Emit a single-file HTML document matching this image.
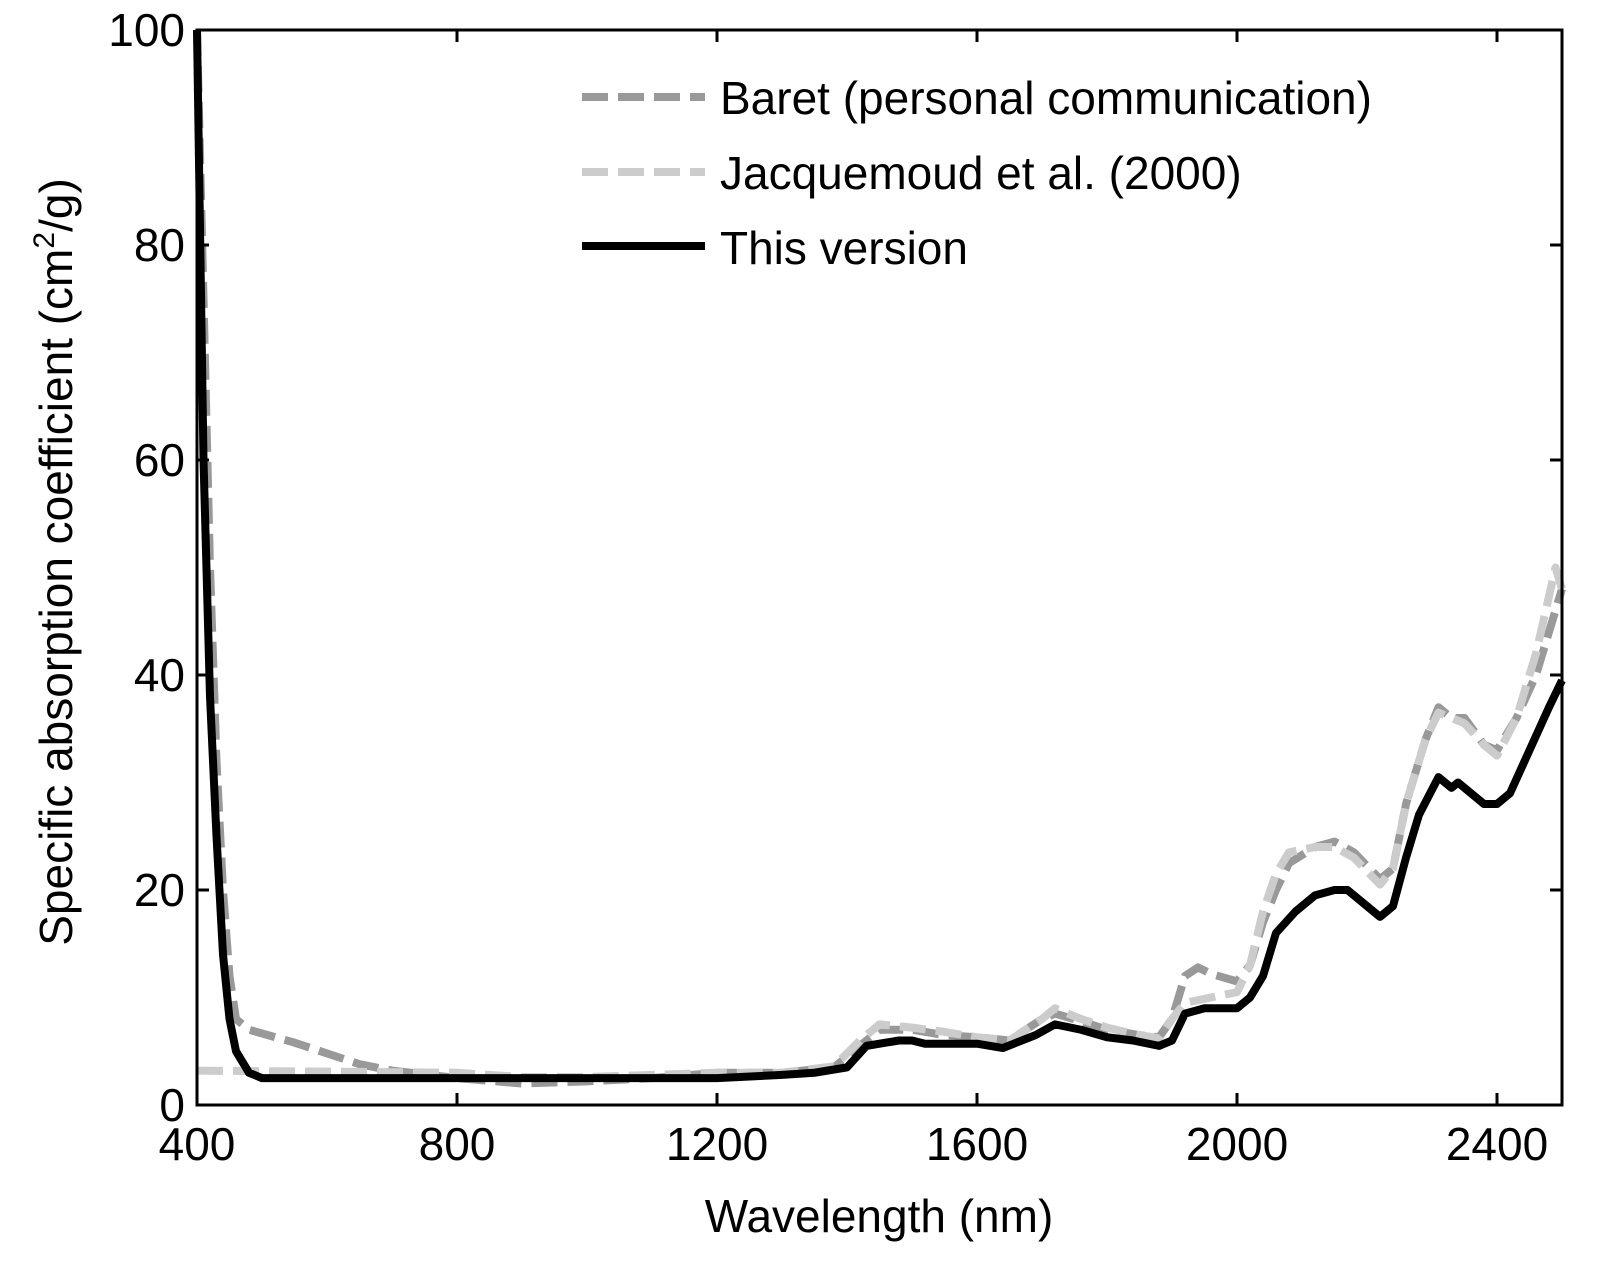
<!DOCTYPE html>
<html><head><meta charset="utf-8"><style>
body{margin:0;background:#fff}
svg text{font-family:"Liberation Sans",Arial,sans-serif;fill:#000}
</style></head><body>
<svg id="chart" width="1608" height="1276" viewBox="0 0 1608 1276" xmlns="http://www.w3.org/2000/svg">
<g id="series"></g>
<rect x="197" y="30" width="1365" height="1075" fill="none" stroke="#000" stroke-width="3"/>
<g id="axes"></g>
<text x="879" y="1232" font-size="46" text-anchor="middle">Wavelength (nm)</text>
<text transform="translate(72,562) rotate(-90)" font-size="46" text-anchor="middle">Specific absorption coefficient (cm<tspan font-size="30" dy="-18">2</tspan><tspan dy="18">/g)</tspan></text>
<g>
<line x1="582" y1="97" x2="705" y2="97" stroke="#999" stroke-width="8" stroke-dasharray="26,10"/>
<text x="720" y="114" font-size="46">Baret (personal communication)</text>
<line x1="582" y1="172" x2="705" y2="172" stroke="#ccc" stroke-width="8" stroke-dasharray="26,10"/>
<text x="720" y="189" font-size="46">Jacquemoud et al. (2000)</text>
<line x1="582" y1="246" x2="705" y2="246" stroke="#000" stroke-width="8"/>
<text x="720" y="264" font-size="46">This version</text>
</g>
</svg>
<script>
const xTicks=[400,800,1200,1600,2000,2400];
const yTicks=[0,20,40,60,80,100];
const baretWl=[400,410,420,430,440,450,460,480,550,600,650,700,800,900,1000,1100,1200,1300,1380,1420,1450,1500,1550,1600,1650,1700,1720,1760,1800,1850,1880,1900,1920,1940,1960,2000,2020,2040,2060,2080,2120,2150,2180,2220,2240,2260,2290,2310,2330,2350,2380,2400,2430,2460,2480,2500];
const baretVal=[100,75,50,32,20,12,8,7,5.8,4.8,3.8,3.2,2.5,2,2.2,2.5,3,3,3.5,5.5,7,7,6.5,6.3,6,8,8.5,7.8,7,6.5,6.3,8,12,12.8,12.2,11.5,13,17,20,22.5,24,24.5,23.5,21,22,28,34,37,36,36,33.5,33,36,40,44,48];
const jacqWl=[400,600,800,900,1000,1100,1200,1300,1380,1420,1450,1500,1550,1600,1650,1700,1720,1760,1800,1850,1880,1900,1920,1960,2000,2020,2040,2060,2080,2120,2150,2180,2220,2240,2260,2290,2310,2330,2350,2380,2400,2430,2460,2490,2500];
const jacqVal=[3.2,3.1,3,2.6,2.6,2.8,3,3,3.6,6,7.5,7.2,6.8,6.3,6,8,9,8,7.2,6.5,6.2,8,9.5,10,10.5,13,18,21.5,23.5,24,24,23,20.5,22,28,34,36.5,36,35.5,33.5,32.5,36,42,50,48];
const thisWl=[400,405,410,420,430,440,450,460,480,500,600,800,1000,1200,1300,1350,1400,1430,1480,1500,1520,1600,1640,1690,1720,1760,1800,1840,1880,1900,1920,1950,2000,2020,2040,2060,2090,2120,2150,2170,2200,2220,2240,2260,2280,2310,2330,2340,2360,2380,2400,2420,2450,2480,2500];
const thisVal=[100,80,60,38,25,14,8,5,3,2.5,2.5,2.5,2.5,2.5,2.8,3,3.5,5.5,6,6,5.7,5.7,5.3,6.5,7.5,7,6.3,6,5.5,6,8.5,9,9,10,12,16,18,19.5,20,20,18.5,17.5,18.5,23,27,30.5,29.5,30,29,28,28,29,33,37,39.5];
const L=197,R=1562,T=30,B=1105;
const sx=w=>L+(w-400)/(2500-400)*(R-L);
const sy=v=>B-v/100*(B-T);
const NS='http://www.w3.org/2000/svg';
const gS=document.getElementById('series'),gA=document.getElementById('axes');
function line(wl,val,stroke,dash,name){
 const p=document.createElementNS(NS,'polyline');
 p.setAttribute('points',wl.map((w,i)=>sx(w)+','+sy(val[i])).join(' '));
 p.setAttribute('fill','none');p.setAttribute('stroke',stroke);p.setAttribute('stroke-width','8');
 p.setAttribute('stroke-linejoin','round');
 if(dash)p.setAttribute('stroke-dasharray',dash);
 
 
 gS.appendChild(p);
}
line(baretWl,baretVal,'#999','26,10','baret-series');
line(jacqWl,jacqVal,'#ccc','26,10','jacquemoud-series');
line(thisWl,thisVal,'#000',null,'this-version-series');
xTicks.forEach(t=>{
 const x=sx(t);
 [[B,B-12],[T,T+12]].forEach(([a,b])=>{const l=document.createElementNS(NS,'line');l.setAttribute('x1',x);l.setAttribute('x2',x);l.setAttribute('y1',a);l.setAttribute('y2',b);l.setAttribute('stroke','#000');l.setAttribute('stroke-width','3');
 
 
 gA.appendChild(l);});
 const tx=document.createElementNS(NS,'text');tx.setAttribute('x',x);tx.setAttribute('y',B+55);tx.setAttribute('font-size','46');tx.setAttribute('text-anchor','middle');tx.textContent=t;
 
 
 gA.appendChild(tx);
});
yTicks.forEach(t=>{
 const y=sy(t);
 [[L,L+12],[R,R-12]].forEach(([a,b])=>{const l=document.createElementNS(NS,'line');l.setAttribute('x1',a);l.setAttribute('x2',b);l.setAttribute('y1',y);l.setAttribute('y2',y);l.setAttribute('stroke','#000');l.setAttribute('stroke-width','3');
 
 
 gA.appendChild(l);});
 const tx=document.createElementNS(NS,'text');tx.setAttribute('x',L-12);tx.setAttribute('y',y+16);tx.setAttribute('font-size','46');tx.setAttribute('text-anchor','end');tx.textContent=t;
 
 
 gA.appendChild(tx);
});
</script>
</body></html>
